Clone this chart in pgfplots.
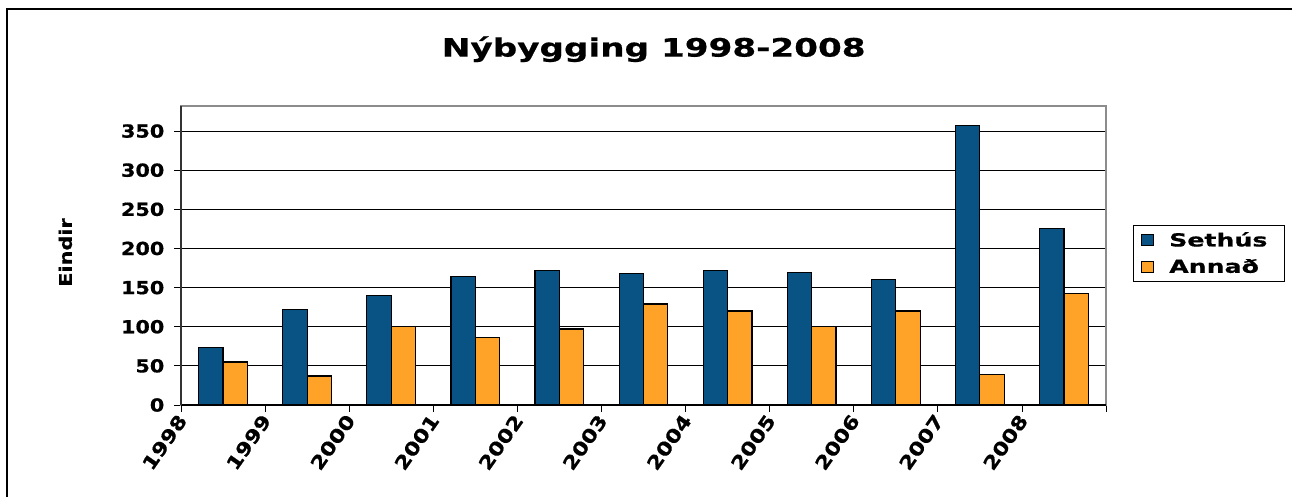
\documentclass[border=0pt]{standalone}
\usepackage{pgfplots}
\pgfplotsset{compat=1.18}
\usepackage{fontspec}
\setmainfont{DejaVu Sans}
\definecolor{sblue}{RGB}{8,82,132}
\definecolor{aorange}{RGB}{255,162,40}
\definecolor{framegray}{RGB}{140,140,140}
\newcommand{\wide}[1]{\addfontfeatures{FakeStretch=#1,FakeBold=0.6}}
\begin{document}
\begin{tikzpicture}
\useasboundingbox (-135.75pt,-69pt) rectangle (833.25pt,303.75pt);
\draw[line width=1.6pt] (-130.5pt,-69pt) -- (-130.5pt,297pt) -- (833.25pt,297pt);
\begin{axis}[
  at={(0pt,0pt)}, anchor=south west,
  scale only axis, width=693.75pt, height=224.25pt,
  ybar=0pt, bar width=0.29,
  xmin=-0.5, xmax=10.5, ymin=0, ymax=382,
  xtick={-0.5,0.5,...,10.5},
  xticklabels={1998,1999,2000,2001,2002,2003,2004,2005,2006,2007,2008,{}},
  ytick={0,50,...,350},
  ymajorgrids, grid style={black, line width=0.6pt},
  tick align=outside, major tick length=5pt,
  tick style={black, line width=0.6pt},
  xtick pos=bottom, ytick pos=left,
  axis line style={framegray, line width=1pt},
  /pgf/number format/assume math mode=true,
  ticklabel style={font=\bfseries\fontsize{13.5}{15}\selectfont\wide{1.15}},
  yticklabel style={xshift=-4pt},
  xticklabel style={rotate=55, anchor=east, xshift=1pt, yshift=-3pt,
    font=\bfseries\fontsize{14}{15}\selectfont\wide{1.2}},
  every axis plot/.append style={draw=black, line width=0.9pt},
  legend style={at={(1.029,0.602)}, anchor=north west, draw=black, line width=0.6pt,
    font=\bfseries\fontsize{13.5}{15}\selectfont\wide{1.4}, row sep=4pt, inner sep=3pt,
    text width=81pt},
  legend cell align=left,
  legend image code/.code={\draw[#1, line width=0.6pt] (3pt,-4pt) rectangle (12pt,4.5pt); \path[draw=none,fill=none] (0pt,0pt) -- (22pt,0pt);},
  clip=false,
]
\addplot[fill=sblue] coordinates {(0,73) (1,122) (2,140) (3,164) (4,172) (5,168) (6,172) (7,169) (8,160) (9,357) (10,225)};
\addplot[fill=aorange] coordinates {(0,55) (1,37) (2,100) (3,86) (4,97) (5,129) (6,120) (7,100) (8,120) (9,39) (10,142)};
\legend{Sethús, Annað}
\draw[black, line width=0.8pt] (axis description cs:0,0) -- (axis description cs:1,0);
\draw[black!80, line width=1pt] (axis description cs:0,0) -- (axis description cs:0,1);
\node[font=\bfseries\fontsize{19}{22}\selectfont\wide{1.35}] at (axis description cs:0.511,1.19) {Nýbygging 1998-2008};
\node[font=\bfseries\fontsize{13}{15}\selectfont\wide{1.2}, rotate=90] at (axis description cs:-0.125,0.51) {Eindir};
\end{axis}
\end{tikzpicture}
\end{document}
